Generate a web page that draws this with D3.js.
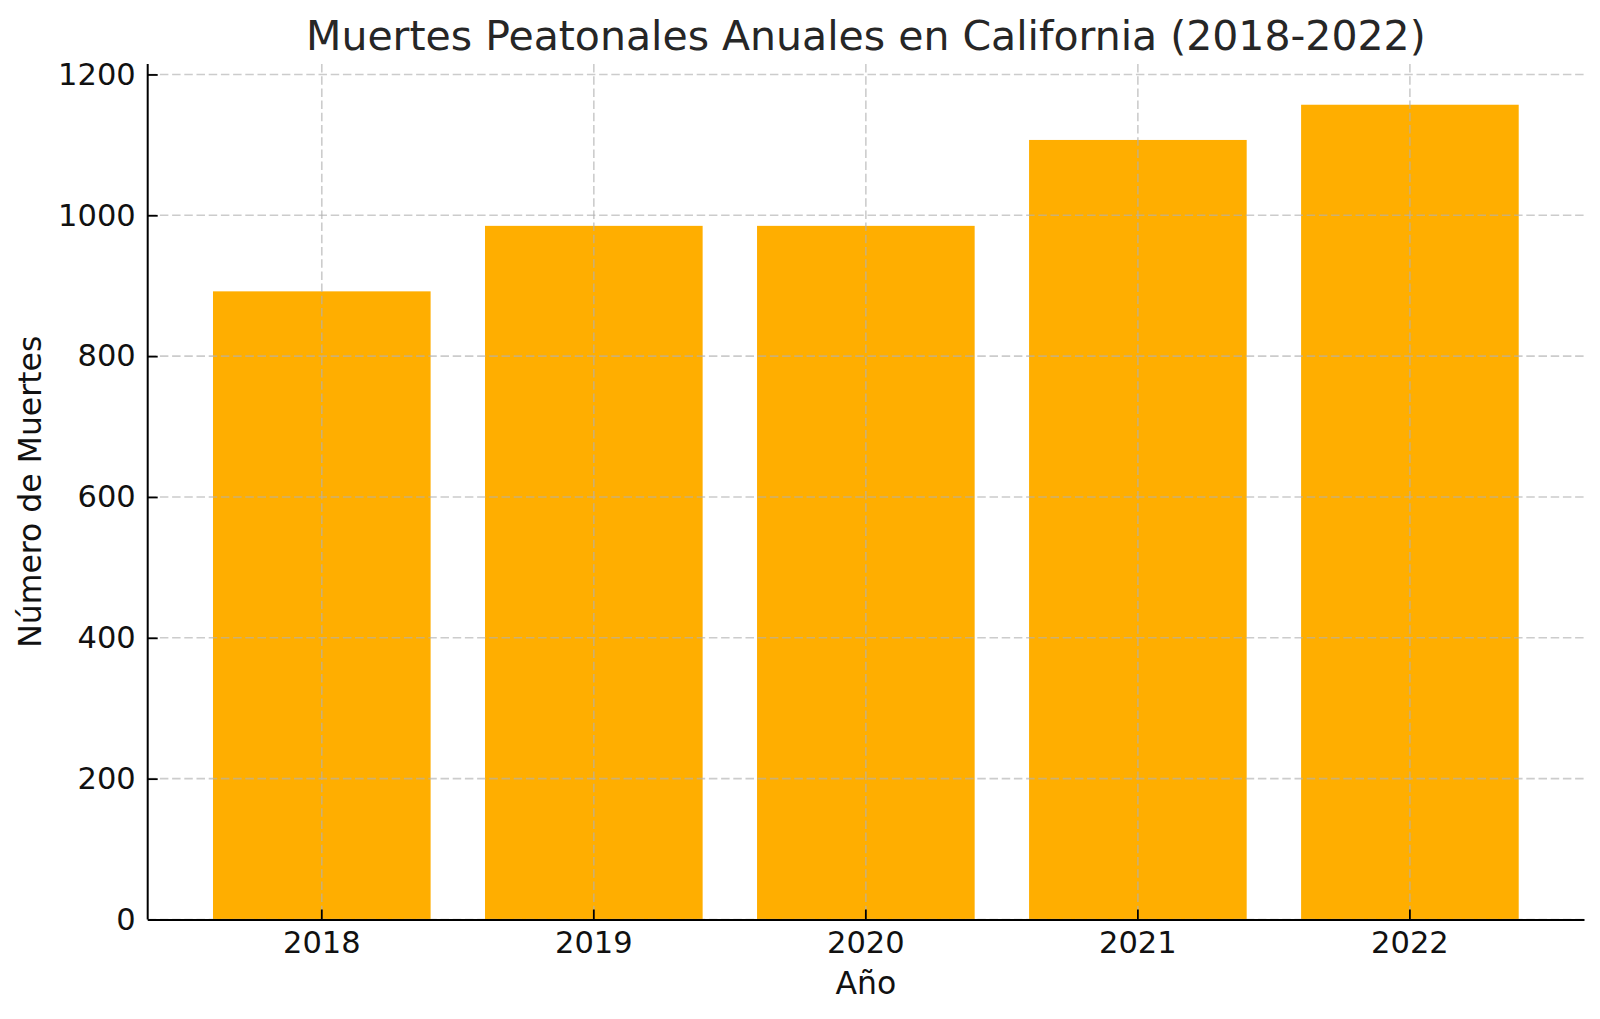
<!DOCTYPE html>
<html>
<head>
<meta charset="utf-8">
<script src="https://cdn.jsdelivr.net/npm/d3@7"></script>
<style>
  body { margin: 0; background: #fff; }
  svg { display: block; font-family: "DejaVu Sans", sans-serif; }
</style>
</head>
<body>
<svg id="chart" width="1600" height="1019"></svg>
<script>
// data
const years = ["2018", "2019", "2020", "2021", "2022"];
const deaths = [892, 985, 985, 1107, 1157];
const yTicks = [0, 200, 400, 600, 800, 1000, 1200];

const svg = d3.select("#chart");
const plotLeft = 147.7, plotRight = 1584, plotTop = 64, plotBottom = 919.5;

// band scale set up like matplotlib's bar() with default margins
const x = d3.scaleBand()
    .domain(years)
    .range([plotLeft, plotRight])
    .paddingInner(0.2)
    .paddingOuter(0.24);

const y = d3.scaleLinear()
    .domain([0, d3.max(deaths) * 1.05])
    .range([plotBottom, plotTop]);

// bars
svg.append("g").selectAll("rect")
    .data(years)
    .join("rect")
    .attr("x", d => x(d))
    .attr("width", x.bandwidth())
    .attr("y", (d, i) => y(deaths[i]))
    .attr("height", (d, i) => plotBottom - y(deaths[i]))
    .attr("fill", "#ffae00");

// grid lines (drawn above the bars, like in the original)
const grid = svg.append("g")
    .attr("stroke", "#b0b0b0")
    .attr("stroke-opacity", 0.65)
    .attr("stroke-width", 1.6)
    .attr("stroke-dasharray", "8.5,3.7");

grid.selectAll("line.h")
    .data(yTicks)
    .join("line")
    .attr("class", "h")
    .attr("x1", plotLeft).attr("x2", plotRight)
    .attr("y1", d => y(d)).attr("y2", d => y(d));

grid.selectAll("line.v")
    .data(years)
    .join("line")
    .attr("class", "v")
    .attr("x1", d => x(d) + x.bandwidth() / 2)
    .attr("x2", d => x(d) + x.bandwidth() / 2)
    .attr("y1", plotTop).attr("y2", plotBottom);

// axes, ticks pointing inward
const yAxis = svg.append("g")
    .attr("transform", `translate(${plotLeft},0)`)
    .call(d3.axisLeft(y).tickValues(yTicks).tickFormat(d3.format("d"))
        .tickSizeInner(-10).tickSizeOuter(0).tickPadding(12));

const xAxis = svg.append("g")
    .attr("transform", `translate(0,${plotBottom})`)
    .call(d3.axisBottom(x).tickSizeInner(-10).tickSizeOuter(0).tickPadding(12));

[yAxis, xAxis].forEach(ax => {
    ax.select(".domain").attr("stroke", "#000").attr("stroke-width", 2);
    ax.selectAll(".tick line").attr("stroke", "#000").attr("stroke-width", 1.8);
    ax.selectAll(".tick text")
        .attr("fill", "#111")
        .style("font-size", "30.5px")
        .style("font-family", "DejaVu Sans, sans-serif");
});

// stretch the y spine to the top of the axes
yAxis.select(".domain").attr("d", `M0,${plotBottom}V${plotTop}`);

// title and axis labels
svg.append("text")
    .attr("x", (plotLeft + plotRight) / 2)
    .attr("y", 50)
    .attr("text-anchor", "middle")
    .attr("fill", "#262626")
    .style("font-size", "41px")
    .text("Muertes Peatonales Anuales en California (2018-2022)");

svg.append("text")
    .attr("x", (plotLeft + plotRight) / 2)
    .attr("y", 994)
    .attr("text-anchor", "middle")
    .attr("fill", "#111")
    .style("font-size", "31.5px")
    .text("Año");

svg.append("text")
    .attr("transform", `translate(41,${(plotTop + plotBottom) / 2}) rotate(-90)`)
    .attr("text-anchor", "middle")
    .attr("fill", "#111")
    .style("font-size", "31.5px")
    .text("Número de Muertes");
</script>
</body>
</html>
